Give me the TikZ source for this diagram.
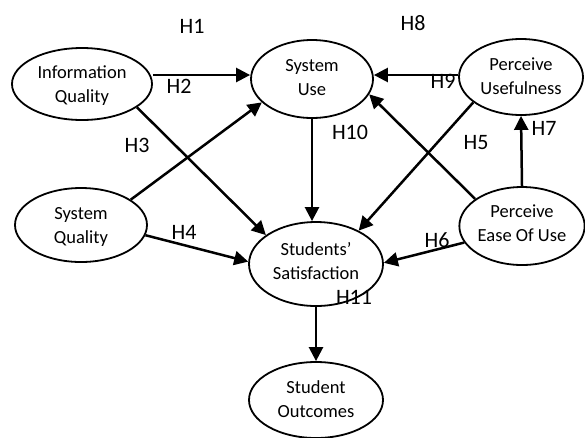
\documentclass[tikz,border=0pt]{standalone}
\usepackage{fontspec}
\setmainfont{Carlito}
\usetikzlibrary{arrows.meta,shapes.geometric}
\newcommand\twoline[4]{\rule{0pt}{#1pt}#3\\#4\rule[-#2pt]{0pt}{#2pt}}
\begin{document}
\begin{tikzpicture}[x=1pt,y=-1pt,
  cons/.style={draw, ellipse, line width=1.8pt, inner sep=0pt, align=center,
    font=\fontsize{18.5}{24}\selectfont},
  arr/.style={line width=2.5pt, -{Triangle[length=14pt,width=14pt]}},
  hlab/.style={inner sep=0pt, font=\fontsize{22}{26}\selectfont}]
\useasboundingbox (0,0) rectangle (585,437);
\node[cons, minimum width=140, minimum height=72] (IQ) at (82,84) {\twoline{18}{6}{Information}{Quality}};
\node[cons, minimum width=122, minimum height=78] (SU) at (312,79) {\twoline{16}{8}{System}{Use}};
\node[cons, minimum width=124, minimum height=76] (PU) at (521,77) {\twoline{17}{7}{Perceive}{Usefulness}};
\node[cons, minimum width=132, minimum height=74] (SQ) at (81,225) {\twoline{18}{6}{System}{Quality}};
\node[cons, minimum width=134, minimum height=84] (SS) at (316,264) {\twoline{15}{9}{Students'}{Satisfaction}};
\node[cons, minimum width=122, minimum height=78] (PE) at (522,226) {\twoline{15}{9}{Perceive}{Ease Of Use}};
\node[cons, minimum width=134, minimum height=76] (SO) at (316,400) {\twoline{17}{7}{Student}{Outcomes}};

\draw[arr] (IQ.east |- 0,75) -- (SU.west |- 0,75);
\draw[arr] (IQ.-23) -- (SS.150);
\draw[arr] (SQ.27) -- (SU.205);
\draw[arr] (SQ.-9) -- (SS.178);
\draw[arr] (SU.south) -- (SU.south |- SS.north);
\draw[arr] (PU.west |- 0,75) -- (SU.east |- 0,75);
\draw[arr] (PU.208) -- (SS.38);
\draw[arr] (PE.150) -- (SU.-15);
\draw[arr] (PE.north) -- (PU.south);
\draw[arr] (PE.196) -- (SS.1);
\draw[arr] (SS.south) -- (SO.north);

\node[hlab] (h1) at (192,26) {H1};
\node[hlab] (h2) at (179,86) {H2};
\node[hlab] (h3) at (137,145) {H3};
\node[hlab] (h4) at (184,232) {H4};
\node[hlab] (h5) at (476,143) {H5};
\node[hlab] (h6) at (437,240) {H6};
\node[hlab] (h7) at (544,128) {H7};
\node[hlab] (h8) at (413,23) {H8};
\node[hlab] (h9) at (443,81) {H9};
\node[hlab] (h10) at (350,132) {H10};
\node[hlab] (h11) at (354,297) {H11};
\end{tikzpicture}
\end{document}
